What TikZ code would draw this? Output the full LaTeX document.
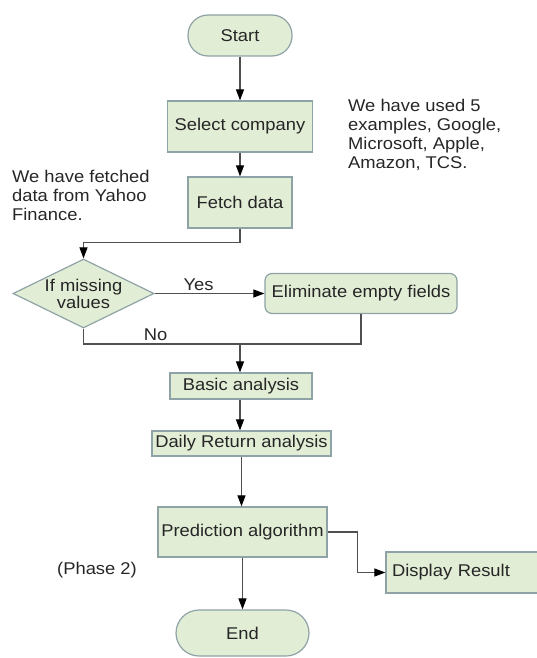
\documentclass[tikz,border=0pt]{standalone}
\usepackage{fontspec}
\setmainfont{Liberation Sans}[FakeStretch=1.08]
\usetikzlibrary{arrows.meta,shapes.geometric}
\definecolor{boxfill}{HTML}{E2EDD6}
\definecolor{boxline}{HTML}{8FA3A6}
\definecolor{linecol}{HTML}{505050}
\begin{document}
\begin{tikzpicture}[x=1pt,y=-1pt,
  every node/.style={font=\fontsize{17}{19}\selectfont, text=black!85},
  box/.style={draw=boxline, fill=boxfill, line width=1.2pt, inner sep=0pt},
  stadium/.style={box, rounded corners=20pt},
  arr/.style={draw=linecol, line width=1.1pt, -{Triangle[length=11pt,width=8pt,fill=black,color=black]}},
  ln/.style={draw=linecol, line width=1.1pt},
  note/.style={align=left, anchor=north west, inner sep=0pt}]
\useasboundingbox (0,0) rectangle (537,658);
\begin{scope}
\clip (0,0) rectangle (537,658);
\node[stadium, minimum width=104pt, minimum height=41pt] (start) at (240,35.5) {Start};
\node[box, minimum width=145pt, minimum height=51pt] (select) at (240,126.5) {Select company};
\node[box, minimum width=104pt, minimum height=51pt] (fetch) at (240,202.5) {Fetch data};
\node[box, shape=diamond, minimum width=141pt, minimum height=69pt,
  label={[align=center, font=\fontsize{17}{17}\selectfont]center:If missing\\values}] (dec) at (83.5,293.5) {};
\node[box, rounded corners=7pt, minimum width=192pt, minimum height=40pt] (elim) at (361,293.5) {Eliminate empty fields};
\node[box, minimum width=142pt, minimum height=26pt] (basic) at (241,386) {Basic analysis};
\node[box, minimum width=179pt, minimum height=25pt] (daily) at (241.5,443.5) {Daily Return analysis};
\node[box, minimum width=169pt, minimum height=50pt] (pred) at (242.5,532) {Prediction algorithm};
\node[box, minimum width=160pt, minimum height=41pt, text width=150pt, align=left] (disp) at (466,572.5) {\hspace*{1pt}Display Result};
\node[box, rounded corners=23pt, minimum width=133pt, minimum height=46pt] (end) at (242.5,633) {End};

\node[note] (n1) at (348,99) {We have used 5\\examples, Google,\\Microsoft, Apple,\\Amazon, TCS.};
\node[note] (n2) at (12,170) {We have fetched\\data from Yahoo\\Finance.};
\node (n3) at (97,570) {(Phase 2)};

\coordinate (join) at (240,344);
\draw[arr] (start.south) -- (start.south |- select.north);
\draw[arr] (select.south) -- (select.south |- fetch.north);
\draw[arr] (fetch.south) -- ++(0,13.5) -| (dec.north);
\draw[arr] (dec.east) -- (elim.west) node[pos=0.4, above=-1pt] (yes) {Yes};
\draw[ln] (dec.south) |- (join) node[pos=0.73, above=-1pt] (no) {No};
\draw[ln] (elim.south) |- (join);
\draw[arr] (join) -- (join |- basic.north);
\draw[arr] (basic.south -| join) -- (join |- daily.north);
\draw[arr] (daily.south) -- (daily.south |- pred.north);
\draw[arr] (pred.east) -- ++(30,0) |- (disp.west);
\draw[arr] (pred.south) -- (pred.south |- end.north);
\end{scope}
\end{tikzpicture}
\end{document}
